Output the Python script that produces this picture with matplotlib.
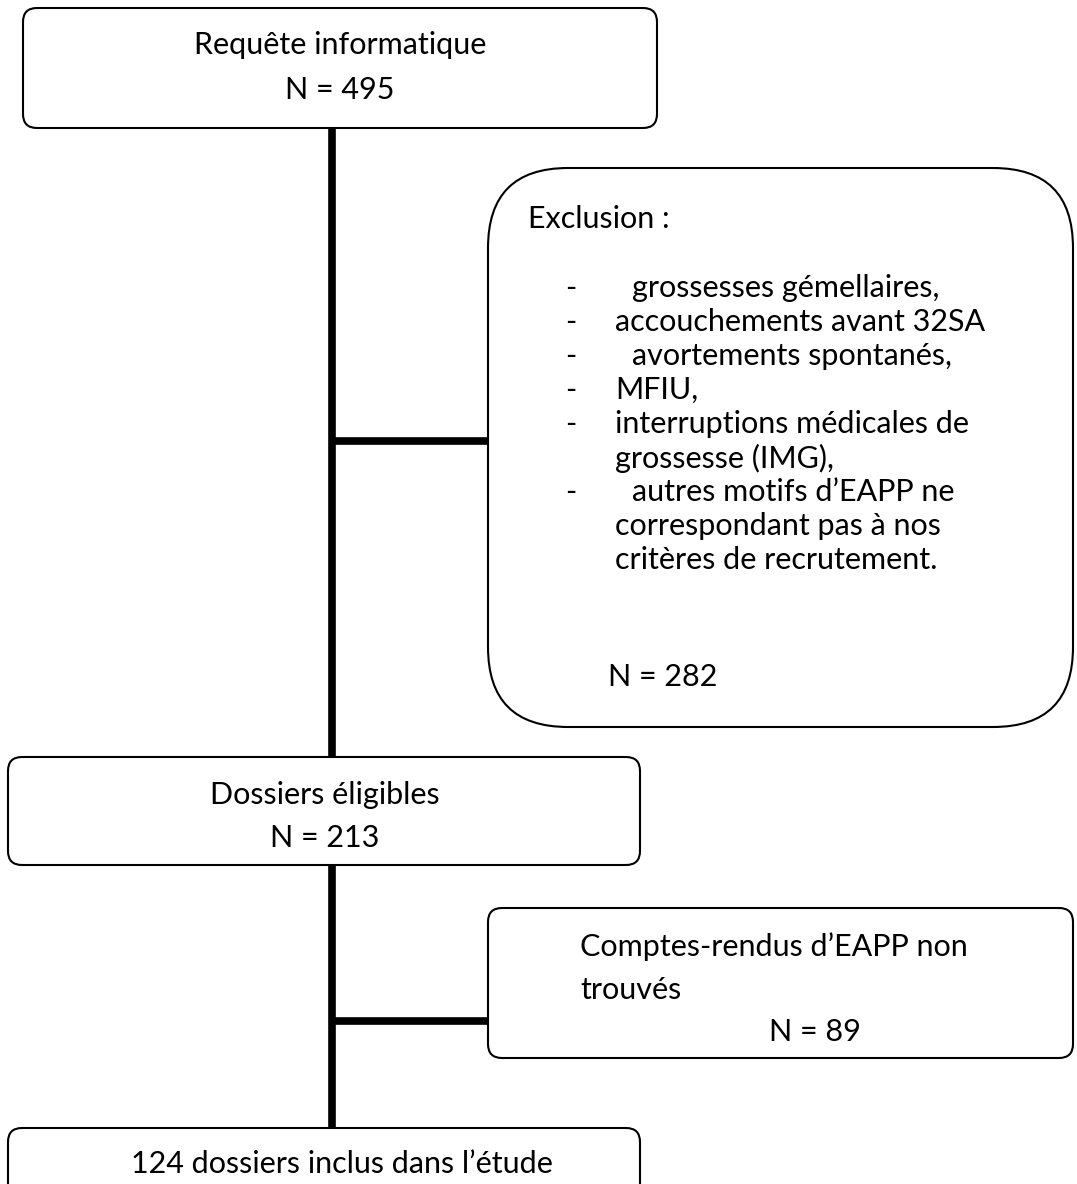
import matplotlib.pyplot as plt
from matplotlib.patches import FancyBboxPatch

# box texts
top_label = "Requête informatique"
top_n = "N = 495"
excl_title = "Exclusion :"
excl_items = [" grossesses gémellaires,",
              "accouchements avant 32SA",
              " avortements spontanés,",
              "MFIU,",
              "interruptions médicales de\ngrossesse (IMG),",
              " autres motifs d\u2019EAPP ne\ncorrespondant pas à nos\ncritères de recrutement."]
excl_n = "N = 282"
elig_label = "Dossiers éligibles"
elig_n = "N = 213"
missing_label = "Comptes-rendus d\u2019EAPP non\ntrouvés"
missing_n = "N = 89"
final_label = "124 dossiers inclus dans l\u2019étude"

plt.rcParams['font.family'] = ['Lato', 'DejaVu Sans']
FS = 22

fig = plt.figure(figsize=(10.77, 11.84), dpi=100)
ax = fig.add_axes([0, 0, 1, 1])
ax.set_xlim(0, 1077)
ax.set_ylim(1184, 0)
ax.axis('off')


def box(x0, y0, x1, y1, r):
    p = FancyBboxPatch((x0, y0), x1 - x0, y1 - y0,
                       boxstyle="round,pad=0,rounding_size=%d" % r,
                       fc='white', ec='black', lw=1.5, zorder=3)
    ax.add_patch(p)


# connectors
ax.plot([332, 332], [128, 1130], color='black', lw=5.5, solid_capstyle='butt', zorder=1)
ax.plot([332, 490], [441, 441], color='black', lw=5.5, solid_capstyle='butt', zorder=1)
ax.plot([332, 490], [1021, 1021], color='black', lw=5.5, solid_capstyle='butt', zorder=1)

# top box
box(23, 8, 657, 128, 14)
ax.text(340, 45, top_label, ha='center', va='center', fontsize=FS, zorder=4)
ax.text(340, 90, top_n, ha='center', va='center', fontsize=FS, zorder=4)

# exclusion box
box(488, 168, 1073, 727, 80)
ax.text(528, 219, excl_title, ha='left', va='center', fontsize=FS, zorder=4)
y = 288
step = 34
for item in excl_items:
    lines = item.split("\n")
    ax.text(565, y, "-", ha='left', va='center', fontsize=FS, zorder=4)
    for ln in lines:
        if ln.startswith(" "):
            ax.text(632, y, ln.strip(), ha='left', va='center', fontsize=FS, zorder=4)
        else:
            ax.text(615, y, ln, ha='left', va='center', fontsize=FS, zorder=4)
        y += step
ax.text(608, 677, excl_n, ha='left', va='center', fontsize=FS, zorder=4)

# eligible box
box(8, 757, 640, 865, 14)
ax.text(325, 795, elig_label, ha='center', va='center', fontsize=FS, zorder=4)
ax.text(325, 838, elig_n, ha='center', va='center', fontsize=FS, zorder=4)

# missing reports box
box(488, 908, 1073, 1058, 14)
mlines = missing_label.split("\n")
ax.text(580, 947, mlines[0], ha='left', va='center', fontsize=FS, zorder=4)
ax.text(580, 990, mlines[1], ha='left', va='center', fontsize=FS, zorder=4)
ax.text(815, 1032, missing_n, ha='center', va='center', fontsize=FS, zorder=4)

# final box
box(8, 1128, 640, 1240, 14)
ax.text(342, 1164, final_label, ha='center', va='center', fontsize=FS, zorder=4)

fig.savefig("out.png", dpi=100)
